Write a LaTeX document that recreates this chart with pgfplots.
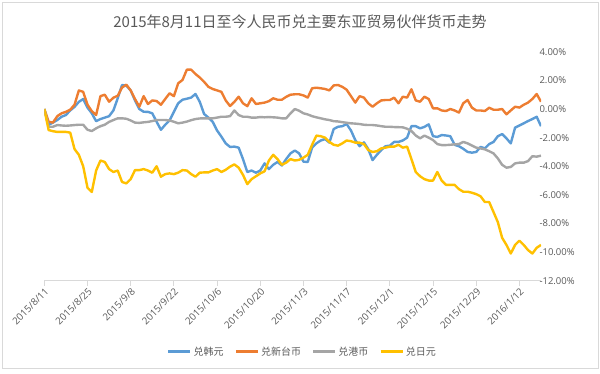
\documentclass[border=0pt]{standalone}
\usepackage{pgfplots}
\usepackage{pgfplotstable}
\pgfplotsset{compat=1.18}
\usepackage{fontspec}
\setmainfont{Open Sans}
\newfontfamily\cjk{Noto Sans CJK SC}
\definecolor{cKRW}{HTML}{5B9BD5}
\definecolor{cTWD}{HTML}{ED7D31}
\definecolor{cHKD}{HTML}{A5A5A5}
\definecolor{cJPY}{HTML}{FFC000}
\definecolor{axisgray}{HTML}{D9D9D9}
\definecolor{textgray}{HTML}{595959}

\pgfplotstableread{
idx krw twd hkd jpy
0 0 0 0 0
1 -1.1 -0.89 -1.24 -1.47
2 -0.95 -0.95 -1.24 -1.55
3 -0.77 -0.5 -1.12 -1.6
4 -0.54 -0.3 -1.15 -1.6
5 -0.42 -0.2 -1.17 -1.6
6 -0.1 -0.05 -1.15 -1.65
7 0.15 0.3 -1.12 -2.8
8 0.5 1.3 -1.1 -3.2
9 0.7 1.2 -1.1 -4.0
10 0.1 0.3 -1.45 -5.5
11 -0.3 -0.15 -1.54 -5.8
12 -0.85 -0.42 -1.35 -4.3
13 -0.7 0.9 -1.2 -3.6
14 -0.6 1.0 -1.1 -3.7
15 -0.5 0.51 -0.9 -4.2
16 -0.1 0.79 -0.77 -4.4
17 0.75 0.93 -0.65 -4.3
18 1.68 1.5 -0.65 -5.1
19 1.63 1.7 -0.68 -5.2
20 1.3 1.3 -0.8 -4.9
21 0.6 0.7 -0.95 -4.27
22 0.0 0.16 -0.97 -4.27
23 -0.19 0.9 -0.93 -4.2
24 -0.2 0.35 -0.9 -4.3
25 -0.3 0.6 -0.84 -4.45
26 -0.89 0.56 -0.77 -4.0
27 -1.45 0.3 -0.77 -4.73
28 -1.1 0.7 -0.77 -4.55
29 -0.8 1.1 -0.8 -4.5
30 -0.2 0.9 -0.89 -4.55
31 0.4 1.8 -1.0 -4.45
32 0.65 2.03 -0.95 -4.27
33 0.72 2.75 -0.88 -4.3
34 0.8 2.75 -0.78 -4.55
35 1.05 2.45 -0.7 -4.73
36 0.5 2.2 -0.66 -4.45
37 -0.35 1.9 -0.65 -4.43
38 -0.6 1.55 -0.65 -4.43
39 -0.9 1.4 -0.65 -4.3
40 -1.5 1.3 -0.6 -4.2
41 -1.93 1.2 -0.54 -4.4
42 -2.4 0.6 -0.54 -4.25
43 -2.65 0.21 -0.5 -4.03
44 -2.63 0.5 -0.1 -3.87
45 -2.7 0.86 -0.42 -4.1
46 -3.5 0.4 -0.54 -4.6
47 -4.4 0.2 -0.54 -5.25
48 -4.3 0.75 -0.6 -4.9
49 -4.45 0.35 -0.6 -4.7
50 -4.3 0.4 -0.56 -4.5
51 -3.8 0.45 -0.58 -4.35
52 -4.2 0.55 -0.56 -3.6
53 -3.9 0.75 -0.58 -3.2
54 -3.7 0.65 -0.6 -3.5
55 -3.95 0.65 -0.65 -3.9
56 -3.5 0.85 -0.65 -3.75
57 -3.1 1.0 -0.3 -3.5
58 -2.9 1.03 0.0 -3.6
59 -3.1 1.03 -0.12 -3.55
60 -3.68 0.95 -0.3 -3.4
61 -3.7 0.8 -0.38 -3.2
62 -2.7 1.45 -0.5 -2.5
63 -2.4 1.49 -0.58 -1.86
64 -2.2 1.45 -0.65 -1.9
65 -2.1 1.4 -0.72 -2.0
66 -2.35 1.3 -0.77 -2.3
67 -1.4 1.65 -0.85 -2.5
68 -1.24 1.68 -0.87 -2.56
69 -1.2 1.55 -0.92 -2.4
70 -1.05 1.35 -0.96 -2.2
71 -1.5 0.9 -1.0 -2.25
72 -2.17 0.45 -1.02 -2.35
73 -2.6 0.9 -1.05 -2.35
74 -2.33 0.8 -1.1 -2.45
75 -2.8 0.4 -1.12 -2.87
76 -3.57 0.16 -1.12 -3.0
77 -3.2 0.4 -1.15 -2.95
78 -2.87 0.6 -1.2 -2.75
79 -2.6 0.63 -1.24 -2.7
80 -2.56 0.63 -1.24 -2.63
81 -2.3 0.79 -1.26 -2.63
82 -2.3 0.4 -1.27 -2.5
83 -2.2 0.86 -1.28 -2.7
84 -2.0 0.8 -1.38 -2.63
85 -1.2 1.38 -1.54 -3.5
86 -1.2 0.6 -1.85 -4.4
87 -1.35 0.51 -2.05 -4.7
88 -1.25 0.86 -1.86 -4.9
89 -1.07 0.7 -2.0 -5.0
90 -1.9 0.05 -2.17 -5.0
91 -1.95 0.05 -2.45 -4.4
92 -1.82 -0.1 -2.52 -5.0
93 -1.85 -0.14 -2.52 -5.3
94 -1.9 0.0 -2.5 -5.3
95 -2.5 -0.1 -2.47 -5.3
96 -2.6 -0.25 -2.45 -5.6
97 -2.78 0.4 -2.3 -5.78
98 -3.0 0.63 -2.4 -5.78
99 -3.05 0.1 -2.55 -5.85
100 -3.0 -0.1 -2.7 -5.95
101 -2.65 -0.1 -2.75 -6.1
102 -2.75 -0.14 -2.82 -6.5
103 -2.45 0.09 -2.95 -6.5
104 -2.3 -0.05 -3.1 -7.2
105 -1.9 -0.05 -3.45 -7.9
106 -1.75 0.0 -3.9 -9.0
107 -2.05 -0.37 -4.1 -9.5
108 -2.4 -0.1 -4.05 -10.1
109 -1.3 0.16 -3.8 -9.5
110 -1.15 0.1 -3.75 -9.2
111 -1.0 0.3 -3.75 -9.5
112 -0.84 0.45 -3.64 -9.86
113 -0.7 0.7 -3.3 -10.1
114 -0.54 1.05 -3.33 -9.7
115 -1.2 0.51 -3.26 -9.5
}\fxdata

\begin{document}
\begin{tikzpicture}[x=1pt,y=1pt]
\useasboundingbox (0,0) rectangle (600,374);
\draw[axisgray, line width=0.8pt] (2,6) rectangle (598,372);
\node[font=\cjk\fontsize{15}{18}\selectfont, text=textgray] at (300,352) {2015年8月11日至今人民币兑主要东亚贸易伙伴货币走势};
\begin{axis}[
  at={(44.3pt,93.3pt)}, anchor=south west,
  scale only axis, width=496.7pt, height=228.9pt,
  xmin=0, xmax=115, ymin=-12, ymax=4,
  axis x line*=bottom, axis y line*=right,
  axis line style={-},
  x axis line style={draw=axisgray, line width=0.8pt},
  y axis line style={draw=none},
  tick align=outside,
  major tick length=5pt,
  xtick={0,10,...,110},
  xticklabels={2015/8/11,2015/8/25,2015/9/8,2015/9/22,2015/10/6,2015/10/20,2015/11/3,2015/11/17,2015/12/1,2015/12/15,2015/12/29,2016/1/12},
  xtick style={draw=axisgray, line width=0.8pt},
  xticklabel style={rotate=45, anchor=north east, font=\fontsize{9.8}{11}\selectfont, text=textgray, inner sep=1pt},
  ytick={-12,-10,...,4},
  ytick style={draw=none},
  yticklabel pos=right,
  yticklabel={\pgfmathprintnumber[fixed,fixed zerofill,precision=2,assume math mode=true]{\tick}\%},
  yticklabel style={anchor=west, xshift=-10pt, font=\fontsize{9.5}{11}\selectfont, text=textgray},
  /pgf/number format/assume math mode=true,
  legend columns=4,
  legend style={at={(0.52,-0.31)}, anchor=center, draw=none, fill=none,
    font=\cjk\fontsize{10}{12}\selectfont, text=textgray,
    /tikz/every even column/.append style={column sep=9pt}},
  legend image code/.code={\draw[#1] (0pt,0pt) -- (22pt,0pt);},
  every axis plot/.append style={line width=2.4pt, line join=round, no markers},
]
\addplot[cKRW] table[x=idx, y=krw] {\fxdata};
\addlegendentry{兑韩元}
\addplot[cTWD] table[x=idx, y=twd] {\fxdata};
\addlegendentry{兑新台币}
\addplot[cHKD] table[x=idx, y=hkd] {\fxdata};
\addlegendentry{兑港币}
\addplot[cJPY] table[x=idx, y=jpy] {\fxdata};
\addlegendentry{兑日元}
\end{axis}
\end{tikzpicture}
\end{document}
